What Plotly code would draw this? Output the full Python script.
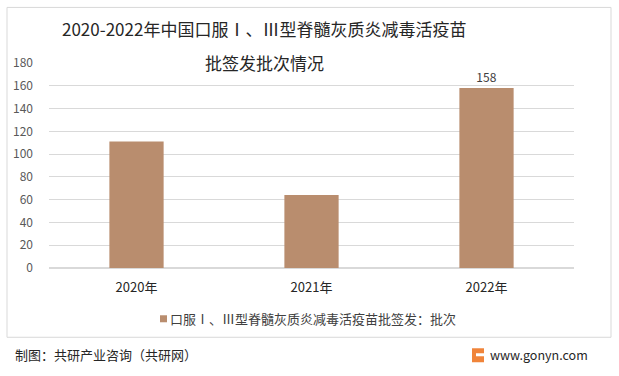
import plotly.graph_objects as go

categories = ["2020年", "2021年", "2022年"]
values = [111, 64, 158]
labeled = [False, False, True]
series_name = "口服Ⅰ、Ⅲ型脊髓灰质炎减毒活疫苗批签发：批次"
title_line1 = "2020-2022年中国口服Ⅰ、Ⅲ型脊髓灰质炎减毒活疫苗"
title_line2 = "批签发批次情况"
source_text = "制图：共研产业咨询（共研网）"
site_text = "www.gonyn.com"

FONT = "Noto Sans CJK SC, Noto Sans, sans-serif"
BAR_COLOR = "#B98D6E"

# plot area in pixels
L, R, T, B = 49, 574, 62.6, 267.7
W = R - L
H = B - T


def px(p):
    return (p - L) / W


def py(q):
    return (B - q) / H


fig = go.Figure()
fig.add_trace(go.Bar(
    x=categories,
    y=values,
    name=series_name,
    marker=dict(color=BAR_COLOR, line=dict(width=0)),
    text=[str(v) if f else "" for v, f in zip(values, labeled)],
    textposition="outside",
    textfont=dict(size=12, color="#404040", family=FONT),
    cliponaxis=False,
    showlegend=False,
))

fig.update_layout(
    width=619, height=376,
    margin=dict(l=L, r=619 - R, t=T, b=376 - B),
    paper_bgcolor="white",
    plot_bgcolor="white",
    bargap=0.69,
    showlegend=False,
    xaxis=dict(
        showgrid=False, showline=False, zeroline=False,
        tickfont=dict(size=13, color="#262626", family=FONT),
        ticks="", ticklabelstandoff=10, automargin=False,
    ),
    yaxis=dict(
        range=[0, 180], dtick=20, tick0=0,
        showgrid=True, gridcolor="#D9D9D9", gridwidth=1,
        zeroline=True, zerolinecolor="#D9D9D9", showline=False,
        tickfont=dict(size=12, color="#595959", family=FONT),
        ticks="", ticklabelstandoff=15, automargin=False,
    ),
    font=dict(family=FONT),
)

fig.add_annotation(
    text=title_line1, xref="paper", yref="paper",
    x=px(264), y=py(28), xanchor="center", yanchor="middle",
    showarrow=False, font=dict(size=17, color="#262626", family=FONT),
)
fig.add_annotation(
    text=title_line2, xref="paper", yref="paper",
    x=px(264), y=py(62), xanchor="center", yanchor="middle",
    showarrow=False, font=dict(size=17, color="#262626", family=FONT),
    bgcolor="white", borderpad=0,
)

# legend (series name with colour swatch)
fig.add_shape(
    type="rect", xref="paper", yref="paper",
    x0=px(160), x1=px(167), y0=py(322), y1=py(315),
    line=dict(width=0), fillcolor=BAR_COLOR,
)
fig.add_annotation(
    text=series_name, xref="paper", yref="paper",
    x=px(168), y=py(318), xanchor="left", yanchor="middle",
    showarrow=False, font=dict(size=13, color="#404040", family=FONT),
)

fig.add_annotation(
    text=source_text, xref="paper", yref="paper",
    x=px(13), y=py(354), xanchor="left", yanchor="middle",
    showarrow=False, font=dict(size=13, color="#262626", family=FONT),
)
fig.add_annotation(
    text=site_text, xref="paper", yref="paper",
    x=px(488), y=py(354), xanchor="left", yanchor="middle",
    showarrow=False, font=dict(size=12.5, color="#262626", family=FONT),
)

# outer border
fig.add_shape(
    type="rect", xref="paper", yref="paper",
    x0=px(7), x1=px(611), y0=py(337), y1=py(7),
    line=dict(color="#D9D9D9", width=1), fillcolor="rgba(0,0,0,0)",
    layer="below",
)
# small logo icon
fig.add_shape(
    type="rect", xref="paper", yref="paper",
    x0=px(472), x1=px(484), y0=py(362), y1=py(348),
    line=dict(width=0), fillcolor="#F0843A",
)
fig.add_shape(
    type="rect", xref="paper", yref="paper",
    x0=px(476), x1=px(484), y0=py(356), y1=py(353),
    line=dict(width=0), fillcolor="white",
)

fig.write_html(
    "out.html",
    config={"displayModeBar": False},
    post_script="document.body.style.margin='0';",
)
